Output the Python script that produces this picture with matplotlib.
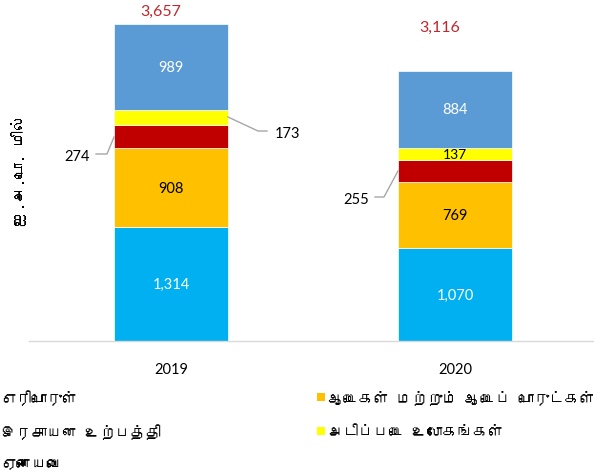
import matplotlib
matplotlib.use("Agg")
import matplotlib.pyplot as plt
from matplotlib import font_manager
from matplotlib.patches import Rectangle
from matplotlib.ft2font import FT2Font

# ---------------- data ----------------
years = ["2019", "2020"]
series_names = ["எரிபொருள்", "ஆடைகள் மற்றும் ஆடைப் பொருட்கள்", "இரசாயன உற்பத்தி",
                "அடிப்படை உலோகங்கள்", "ஏனையவை"]
fuel = [1314, 1070]
garments = [908, 769]
chemicals = [274, 255]
base_metals = [173, 137]
others = [989, 884]
totals = [3657, 3116]
ylabel = "ஐ.அ.டொ. மில்"

colors = ["#00B0F0", "#FFC000", "#C00000", "#FFFF00", "#5B9BD5"]
label_colors = ["white", "black", "black", "black", "white"]

# ---------------- fonts ----------------
tamil_family = None
for f in font_manager.fontManager.ttflist:
    try:
        cm = FT2Font(f.fname).get_charmap()
        if 0x0B95 in cm and 0x0BAE in cm:
            tamil_family = f.name
            break
    except Exception:
        pass
num_family = ["Lato", "DejaVu Sans"]
tam_family = ([tamil_family] if tamil_family else []) + ["DejaVu Sans"]

# ---------------- figure ----------------
W, H = 594, 477
fig = plt.figure(figsize=(W / 100, H / 100), dpi=100)
ax = fig.add_axes([29 / W, (H - 342) / H, 568 / W, 338 / H])
ax.set_xlim(-0.5, 1.5)
ax.set_ylim(0, 3900)

x = [0, 1]
width = 0.4
data = [fuel, garments, chemicals, base_metals, others]
bottoms = [0, 0]
for i, vals in enumerate(data):
    ax.bar(x, vals, width, bottom=bottoms, color=colors[i], edgecolor="white",
           linewidth=0.5, zorder=2)
    bottoms = [b + v for b, v in zip(bottoms, vals)]

# inside labels
def seg_center(j, k):
    return sum(d[j] for d in data[:k]) + data[k][j] / 2

for j in range(2):
    for k in [0, 1, 4]:
        ax.text(x[j], seg_center(j, k), f"{data[k][j]:,}", ha="center", va="center",
                color=label_colors[k], fontsize=10.5, family=num_family)
# 137 inside yellow for 2020
ax.text(x[1], seg_center(1, 3), f"{base_metals[1]}", ha="center", va="center",
        color="black", fontsize=10, family=num_family)

# callouts (pixel -> data helpers)
def px2data(px, py):
    xd = -0.5 + (px - 29) / 568 * 2.0
    yd = (342 - py) / 338 * 3900
    return xd, yd

lc = "#A6A6A6"
# 173 (2019 yellow)
pts = [px2data(228, 118), px2data(258, 132), px2data(267, 132)]
ax.plot([p[0] for p in pts], [p[1] for p in pts], color=lc, lw=1, clip_on=False)
tx, ty = px2data(275, 134)
ax.text(tx, ty, f"{base_metals[0]}", ha="left", va="center", fontsize=10.5,
        family=num_family, color="black")
# 274 (2019 red)
pts = [px2data(114, 138), px2data(107, 155), px2data(96, 155)]
ax.plot([p[0] for p in pts], [p[1] for p in pts], color=lc, lw=1, clip_on=False)
tx, ty = px2data(90, 157)
ax.text(tx, ty, f"{chemicals[0]}", ha="right", va="center", fontsize=10.5,
        family=num_family, color="black")
# 255 (2020 red)
pts = [px2data(398, 172), px2data(384, 198), px2data(375, 198)]
ax.plot([p[0] for p in pts], [p[1] for p in pts], color=lc, lw=1, clip_on=False)
tx, ty = px2data(369, 200)
ax.text(tx, ty, f"{chemicals[1]}", ha="right", va="center", fontsize=10.5,
        family=num_family, color="black")

# totals
for j, (px, py) in enumerate([(161, 12), (440, 28)]):
    tx, ty = px2data(px, py)
    ax.text(tx, ty, f"{totals[j]:,}", ha="center", va="center", color="#C0282D",
            fontsize=11.5, family=num_family, clip_on=False)

# axes styling
for s in ["top", "right", "left"]:
    ax.spines[s].set_visible(False)
ax.spines["bottom"].set_color("#D9D9D9")
ax.spines["bottom"].set_linewidth(1)
ax.set_yticks([])
ax.set_xticks(x)
ax.set_xticklabels(years, fontsize=10.5, family=num_family)
ax.tick_params(axis="x", length=0, pad=15)

fig.text(19 / W, 1 - 170 / H, ylabel, rotation=90, ha="center", va="center",
         fontsize=11.5, family=tam_family)

# legend (manual; left column markers sit just off the figure edge as in the reference)
leg_items = [(0, -13, 398, 1), (1, 317, 398, 328), (2, -13, 432, 1),
             (3, 317, 432, 328), (4, -13, 465, 1)]
for k, mx, my, tx in leg_items:
    fig.patches.append(Rectangle((mx / W, 1 - (my + 4) / H), 8 / W, 8 / H,
                                 transform=fig.transFigure, facecolor=colors[k],
                                 edgecolor="none"))
    fig.text(tx / W, 1 - my / H, series_names[k], ha="left", va="center",
             fontsize=11, family=tam_family)

fig.savefig("out.png", dpi=100)
